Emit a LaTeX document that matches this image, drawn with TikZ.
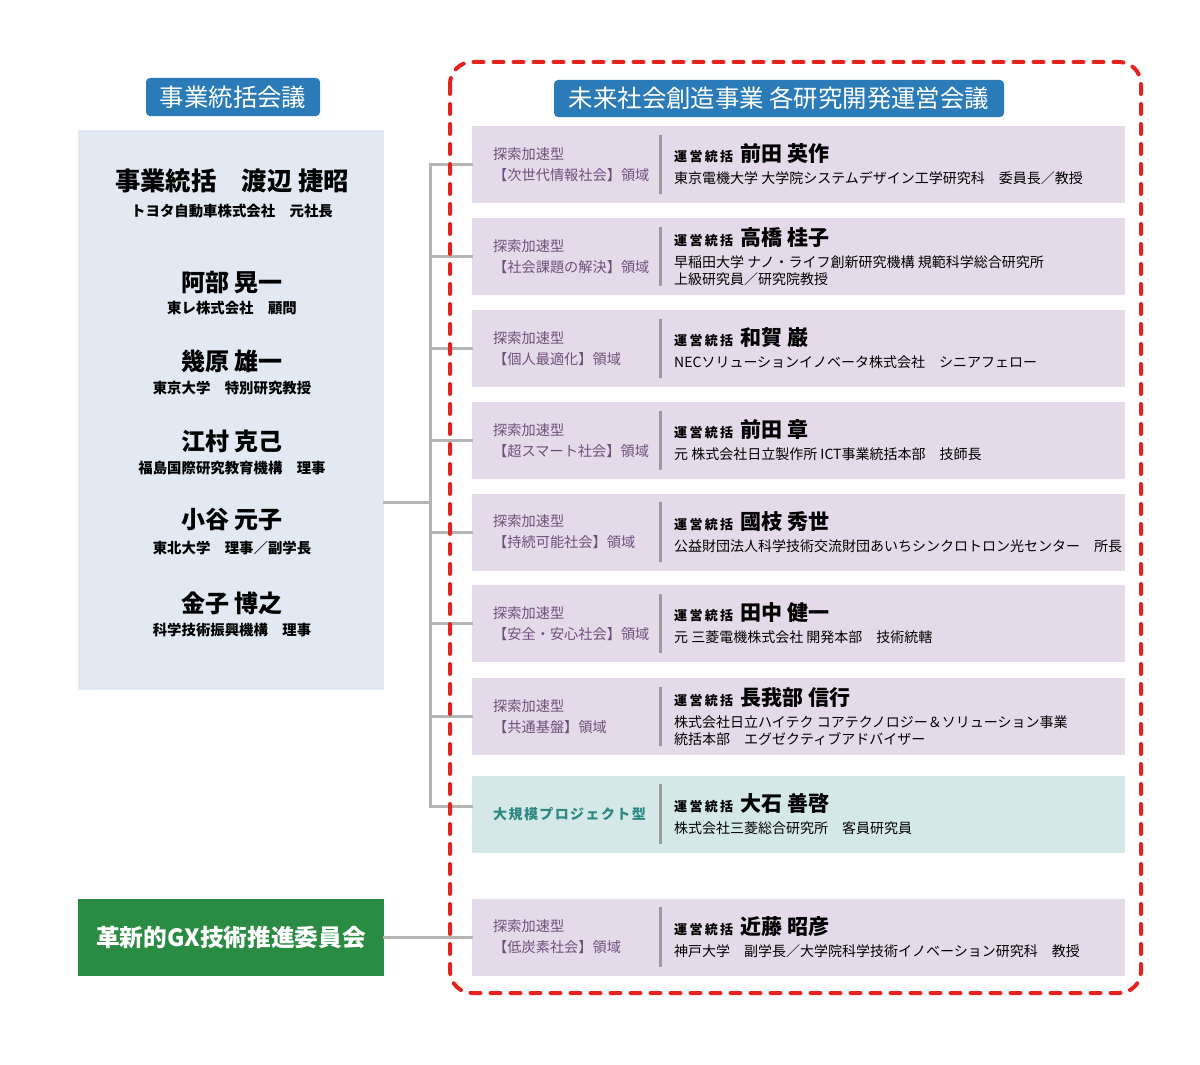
\documentclass[tikz,border=0pt]{standalone}
\usepackage{fontspec}
\usepackage{xcolor}
\setmainfont{Noto Sans CJK JP}
\usetikzlibrary{positioning, calc}
\definecolor{HeadBlue}{HTML}{2B7BB8}
\definecolor{PanelFill}{HTML}{E3E9F2}
\definecolor{FieldFill}{HTML}{E5DAEA}
\definecolor{FieldText}{HTML}{70507A}
\definecolor{ProjFill}{HTML}{D4E8E7}
\definecolor{ProjText}{HTML}{2E8882}
\definecolor{RuleGray}{HTML}{9B9B9B}
\definecolor{LinkGray}{HTML}{B5B5B5}
\definecolor{FrameRed}{HTML}{E5231E}
\definecolor{GXGreen}{HTML}{2A8B42}
\newcommand{\fieldrow}[7]{% name, y, box style, label style, label, director, affiliation
    \node[#3] (#1) at (798.5,#2) {};
    \node[#4, anchor=west] (#1-f) at (493,#2) {#5};
    \draw[divider] ($(#1.north -| divx)+(0,9)$) -- ($(#1.south -| divx)+(0,-9)$);
    \node[dirlbl, anchor=west] (#1-d) at (674,#2)
        {{\fontsize{13}{16}\selectfont\bfseries\addfontfeature{LetterSpace=18}運営統括}\hspace{7pt}%
         {\fontsize{21}{24}\selectfont\bfseries #6}\\[5pt]#7};
}

\begin{document}
\begin{tikzpicture}[x=1pt, y=-1pt,
    hdr/.style={fill=HeadBlue, rounded corners=4pt, text=white,
        font=\fontsize{24.4}{27}\selectfont, inner sep=0pt},
    panelbox/.style={fill=PanelFill, inner sep=0pt,
        minimum width=306pt, minimum height=560pt},
    pname/.style={font=\fontsize{24}{28}\selectfont\bfseries, inner sep=0pt},
    paff/.style={font=\fontsize{14.4}{17}\selectfont\bfseries, inner sep=0pt},
    fieldbox/.style={fill=FieldFill, minimum width=653pt, minimum height=77pt, inner sep=0pt},
    projbox/.style={fieldbox, fill=ProjFill},
    fieldlbl/.style={font=\fontsize{14.2}{21}\selectfont, text=FieldText,
        align=left, inner sep=0pt},
    projlbl/.style={font=\fontsize{14}{21}\selectfont\bfseries\addfontfeature{LetterSpace=10},
        text=ProjText, inner sep=0pt},
    dirlbl/.style={font=\fontsize{14}{17}\selectfont, align=left, inner sep=0pt},
    divider/.style={line width=3pt, draw=RuleGray},
    link/.style={line width=3pt, draw=LinkGray, line cap=rect},
    redframe/.style={line width=4pt, draw=FrameRed, dash pattern=on 10pt off 10pt,
        line cap=round, rounded corners=22pt},
    gxbox/.style={fill=GXGreen, text=white, font=\fontsize{23.7}{26}\selectfont\bfseries,
        minimum width=306pt, minimum height=77pt, inner sep=0pt}
]
\useasboundingbox (0,0) rectangle (1200,1065);
\coordinate (divx) at (660,0);

% ===================================================================
% LEFT: business council
% ===================================================================
\node[hdr, minimum width=174pt, minimum height=38pt] (lefthdr) at (233,97) {事業統括会議};
\node[panelbox] (panel) at (231,410) {};

\node[pname, font=\fontsize{25.3}{28}\selectfont\bfseries] (m1) at (232,181) {事業統括　渡辺 捷昭};
\node[paff] (m1a) at (232,211) {トヨタ自動車株式会社　元社長};
\node[pname] (m2) at (232,282) {阿部 晃一};
\node[paff] (m2a) at (232,308) {東レ株式会社　顧問};
\node[pname] (m3) at (232,361) {幾原 雄一};
\node[paff] (m3a) at (232,388) {東京大学　特別研究教授};
\node[pname] (m4) at (232,441) {江村 克己};
\node[paff] (m4a) at (232,468) {福島国際研究教育機構　理事};
\node[pname] (m5) at (232,520) {小谷 元子};
\node[paff] (m5a) at (232,548) {東北大学　理事／副学長};
\node[pname] (m6) at (232,603) {金子 博之};
\node[paff] (m6a) at (232,630) {科学技術振興機構　理事};

% GX committee
\node[gxbox] (gx) at (231,937.5) {革新的GX技術推進委員会};

% ===================================================================
% RIGHT: research councils
% ===================================================================
\node[hdr, minimum width=450pt, minimum height=37pt] (righthdr) at (779,98.5)
    {未来社会創造事業 各研究開発運営会議};

\fieldrow{r1}{164.5}{fieldbox}{fieldlbl}{探索加速型\\【次世代情報社会】領域}{前田 英作}
    {東京電機大学 大学院システムデザイン工学研究科　委員長／教授}
\fieldrow{r2}{256.5}{fieldbox}{fieldlbl}{探索加速型\\【社会課題の解決】領域}{高橋 桂子}
    {早稲田大学 ナノ・ライフ創新研究機構 規範科学総合研究所\\上級研究員／研究院教授}
\fieldrow{r3}{348.5}{fieldbox}{fieldlbl}{探索加速型\\【個人最適化】領域}{和賀 巌}
    {NECソリューションイノベータ株式会社　シニアフェロー}
\fieldrow{r4}{440.5}{fieldbox}{fieldlbl}{探索加速型\\【超スマート社会】領域}{前田 章}
    {元 株式会社日立製作所 ICT事業統括本部　技師長}
\fieldrow{r5}{532}{fieldbox}{fieldlbl}{探索加速型\\【持続可能社会】領域}{國枝 秀世}
    {公益財団法人科学技術交流財団あいちシンクロトロン光センター　所長}
\fieldrow{r6}{623.5}{fieldbox}{fieldlbl}{探索加速型\\【安全・安心社会】領域}{田中 健一}
    {元 三菱電機株式会社 開発本部　技術統轄}
\fieldrow{r7}{716.5}{fieldbox}{fieldlbl}{探索加速型\\【共通基盤】領域}{長我部 信行}
    {株式会社日立ハイテク コアテクノロジー＆ソリューション事業\\統括本部　エグゼクティブアドバイザー}
\fieldrow{r8}{814}{projbox}{projlbl}{大規模プロジェクト型}{大石 善啓}
    {株式会社三菱総合研究所　客員研究員}
\fieldrow{r9}{937}{fieldbox}{fieldlbl}{探索加速型\\【低炭素社会】領域}{近藤 昭彦}
    {神戸大学　副学長／大学院科学技術イノベーション研究科　教授}

% ===================================================================
% CONNECTORS
% ===================================================================
\coordinate (hub) at ($(panel.east)+(46,92)$);
\coordinate (r8in) at ($(r8.west)+(0,-8)$);
\draw[link] ($(panel.east)+(0,92)$) -- (hub);
\draw[link] (hub |- r1.west) -- (hub |- r8in);
\foreach \r in {r1,r2,r3,r4,r5,r6,r7} {
    \draw[link] (hub |- \r.west) -- (\r.west);
}
\draw[link] (hub |- r8in) -- (r8in);
\draw[link] (gx.east) -- (gx.east -| r9.west);

% dashed frame round the research councils
\draw[redframe] (450,62) rectangle (1141,993);

\end{tikzpicture}
\end{document}
